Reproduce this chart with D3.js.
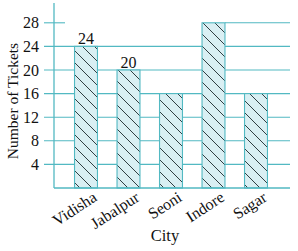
<!DOCTYPE html>
<html><head><meta charset="utf-8">
<script src="https://cdn.jsdelivr.net/npm/d3@7"></script>
<style>body{margin:0;background:#fff}svg{display:block}</style>
</head><body>
<script>
const cities = ["Vidisha","Jabalpur","Seoni","Indore","Sagar"];
const tickets = [24,20,16,28,16];
const yTicks = [4,8,12,16,20,24,28];
const labelled = {"Vidisha":24,"Jabalpur":20};

const W=298,H=251;
const teal="#52b9c2", fill="#d9eff3";
const svg=d3.select("body").append("svg").attr("width",W).attr("height",H);
const defs=svg.append("defs");
const pat=defs.append("pattern").attr("id","hatch").attr("patternUnits","userSpaceOnUse")
  .attr("width",12).attr("height",12);
pat.append("rect").attr("width",12).attr("height",12).attr("fill",fill);
pat.append("path").attr("d","M0,0L12,12M-6,6L6,18M6,-6L18,6").attr("stroke","#1d2a2c").attr("stroke-width",0.9);

const x0=54, x1=290, yTop=3, yBase=188;
const y=d3.scaleLinear().domain([0,28]).range([yBase,22.8]);
const x=d3.scaleBand().domain(cities).range([64.75,277.25]).paddingInner(0.46).paddingOuter(0.23);
const font="Liberation Serif, Times New Roman, serif";

svg.append("g").selectAll("line").data(yTicks.filter(v=>v<28)).join("line")
  .attr("x1",x0-10).attr("x2",x1).attr("y1",d=>y(d)).attr("y2",d=>y(d))
  .attr("stroke",teal).attr("stroke-width",1.1);
const maxV=d3.max(tickets), maxC=cities[tickets.indexOf(maxV)];
svg.append("line").attr("x1",x0-10).attr("x2",x0+11).attr("y1",y(maxV)).attr("y2",y(maxV)).attr("stroke",teal).attr("stroke-width",1.1);
svg.append("line").attr("x1",x(maxC)+x.bandwidth()).attr("x2",x1).attr("y1",y(maxV)).attr("y2",y(maxV)).attr("stroke",teal).attr("stroke-width",1.1);

svg.append("line").attr("x1",x0).attr("x2",x0).attr("y1",yTop).attr("y2",yBase).attr("stroke",teal).attr("stroke-width",1.3);
svg.append("g").selectAll("rect").data(cities).join("rect")
  .attr("x",d=>x(d)).attr("width",x.bandwidth())
  .attr("y",(d,i)=>y(tickets[i])).attr("height",(d,i)=>y(0)-y(tickets[i]))
  .attr("fill","url(#hatch)").attr("stroke",teal).attr("stroke-width",1.1);
svg.append("line").attr("x1",x0).attr("x2",x1).attr("y1",yBase).attr("y2",yBase).attr("stroke",teal).attr("stroke-width",1.4);

svg.append("g").selectAll("text").data(yTicks).join("text")
  .attr("x",x0-15).attr("y",d=>y(d)).attr("dy","0.35em").attr("text-anchor","end")
  .attr("font-family",font).attr("font-size",16).attr("fill","#111").text(d=>d);

svg.append("g").selectAll("text").data(cities.filter(c=>labelled[c]!==undefined)).join("text")
  .attr("x",d=>x(d)+x.bandwidth()/2).attr("y",d=>y(labelled[d])-2).attr("text-anchor","middle")
  .attr("font-family",font).attr("font-size",16).attr("fill","#111").text(d=>labelled[d]);

svg.append("g").selectAll("text").data(cities).join("text")
  .attr("transform",d=>`translate(${x(d)+x.bandwidth()/2+12},${yBase+12}) rotate(-33)`)
  .attr("text-anchor","end").attr("font-family",font).attr("font-size",16).attr("fill","#111").text(d=>d);

svg.append("text").attr("x",165).attr("y",241).attr("text-anchor","middle")
  .attr("font-family",font).attr("font-size",16.5).attr("fill","#111").text("City");
svg.append("text").attr("transform","translate(18,101) rotate(-90)").attr("text-anchor","middle")
  .attr("font-family",font).attr("font-size",15.5).attr("fill","#111").text("Number of Tickets");
</script>
</body></html>
